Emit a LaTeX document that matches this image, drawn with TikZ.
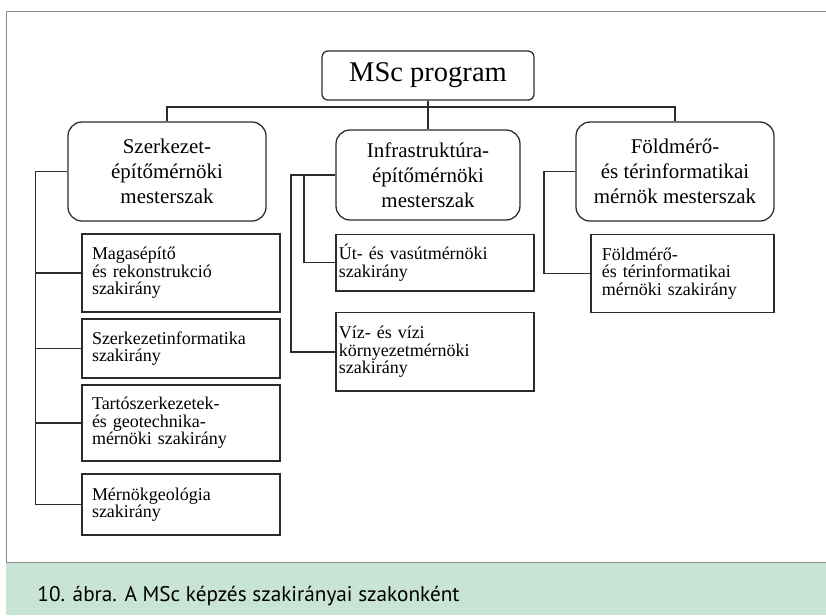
\documentclass[tikz,border=0pt]{standalone}
\usepackage{fontspec}
\setmainfont{Liberation Serif}
\newfontfamily\capfont{PT Sans}
\definecolor{linegray}{HTML}{2B2B2B}
\definecolor{framegray}{HTML}{8C8C8C}
\definecolor{capgreen}{HTML}{C8E4D5}
\tikzset{
  mainbox/.style={draw=linegray,line width=0.9pt,rounded corners=0.35cm,align=center,inner sep=1pt,font=\fontsize{14.9}{17.8}\selectfont},
  subbox/.style={draw=linegray,line width=0.9pt,align=left,inner ysep=1pt,font=\fontsize{12.8}{12.4}\selectfont},
  heavybox/.style={subbox,line width=1.4pt},
  link/.style={draw=linegray,line width=0.9pt}
}
\begin{document}
\begin{tikzpicture}
\useasboundingbox (0.000,0.000) rectangle (20.650,-15.375);
% frame and caption band
\fill[capgreen] (0.150,-14.063) rectangle (20.650,-15.375);
\draw[framegray,line width=0.7pt] (20.650,-0.275) -- (0.150,-0.275) -- (0.150,-14.063) -- (20.650,-14.063);
\node[anchor=base west,inner sep=0pt,font=\capfont\fontsize{15.1}{17}\selectfont] (caption) at (0.930,-15.040) {10. ábra. A MSc képzés szakirányai szakonként};
% program and the three mesterszak
\node[mainbox,rounded corners=0.15cm,minimum width=5.300cm,minimum height=1.225cm,font=\fontsize{20.3}{24}\selectfont] (msc) at (10.700,-1.888) {MSc program};
\node[mainbox,minimum width=4.950cm,minimum height=2.475cm] (szerk) at (4.175,-4.288) {Szerkezet-\\építőmérnöki\\mesterszak};
\node[mainbox,minimum width=4.600cm,minimum height=2.250cm] (infra) at (10.700,-4.375) {Infrastruktúra-\\építőmérnöki\\mesterszak};
\node[mainbox,minimum width=4.950cm,minimum height=2.475cm] (foldm) at (16.875,-4.288) {Földmérő-\\és térinformatikai\\mérnök mesterszak};
% szakirányok
\node[subbox,inner xsep=0.250cm,text width=4.450cm,minimum height=1.950cm] (magas) at (4.525,-6.825) {Magasépítő\\és rekonstrukció\\szakirány};
\node[heavybox,inner xsep=0.250cm,text width=4.450cm,minimum height=1.475cm] (szinf) at (4.525,-8.713) {Szerkezetinformatika\\szakirány};
\node[heavybox,inner xsep=0.250cm,text width=4.450cm,minimum height=1.900cm] (tarto) at (4.525,-10.575) {Tartószerkezetek-\\és geotechnika-\\mérnöki szakirány};
\node[heavybox,inner xsep=0.250cm,text width=4.450cm,minimum height=1.525cm] (mgeo) at (4.525,-12.613) {Mérnökgeológia\\szakirány};
\node[subbox,inner xsep=0.070cm,text width=4.810cm,minimum height=1.413cm] (utvas) at (10.875,-6.569) {Út- és vasútmérnöki\\szakirány};
\node[subbox,inner xsep=0.070cm,text width=4.810cm,minimum height=1.957cm] (vizi) at (10.875,-8.797) {Víz- és vízi\\környezetmérnöki\\szakirány};
\node[subbox,inner xsep=0.270cm,text width=4.035cm,minimum height=1.950cm] (terinf) at (17.063,-6.833) {Földmérő-\\és térinformatikai\\mérnöki szakirány};
% connectors
\coordinate (bar) at (10.700,-2.675);
\coordinate (ltrunk) at (0.893,-12.613);
\coordinate (mfork) at (7.600,-4.375);
\coordinate (mtrunk) at (7.275,-8.797);
\coordinate (rtrunk) at (13.600,-6.833);
\draw[link] (msc.south) -- (infra.north);
\draw[link] (szerk.north) |- (bar) -| (foldm.north);
\draw[link] (szerk.west) -| (ltrunk) -- (mgeo.west);
\draw[link] (magas.west) -- (magas.west -| ltrunk);
\draw[link] (szinf.west) -- (szinf.west -| ltrunk);
\draw[link] (tarto.west) -- (tarto.west -| ltrunk);
\draw[link] (infra.west) -| (mtrunk) -- (vizi.west);
\draw[link] (utvas.west) -| (mfork);
\draw[link] (foldm.west) -| (rtrunk) -- (terinf.west);
\end{tikzpicture}
\end{document}
